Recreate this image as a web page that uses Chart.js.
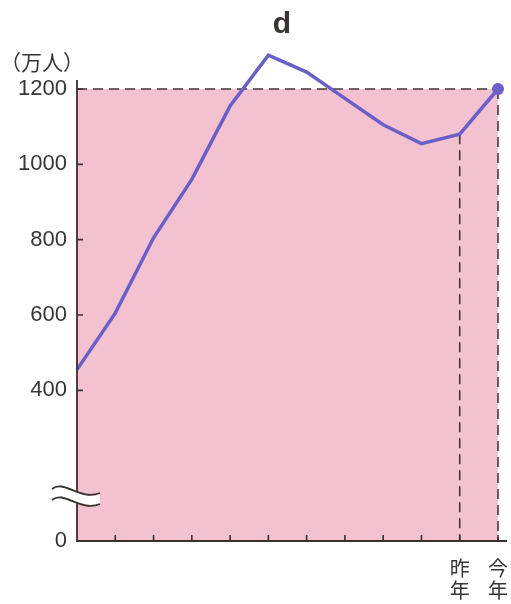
<!DOCTYPE html>
<html>
<head>
<meta charset="utf-8">
<script src="https://cdn.jsdelivr.net/npm/chart.js@4"></script>
<style>
  body { margin: 0; background: #fff; }
  canvas { display: block; }
</style>
</head>
<body>
<canvas id="visitorChart" width="511" height="604"></canvas>
<script>
// x categories: only the last two years are labelled
const periods = ["", "", "", "", "", "", "", "", "", "", "昨年", "今年"];
// visitors (万人)
const visitors = [455, 605, 805, 960, 1155, 1290, 1245, 1175, 1105, 1055, 1080, 1200];
// y tick labels shown on the axis (200 is hidden by the axis break)
const yTicks = [0, 400, 600, 800, 1000, 1200];

const axisColor = "#3a302c";
const textColor = "#3a3434";
const pink = "#f3c1d0";
const lineColor = "#6a5fc9";

const decorPlugin = {
    id: "decor",
    beforeDatasetsDraw(chart) {
        const { ctx, chartArea: a, scales: { x, y } } = chart;
        ctx.save();
        ctx.fillStyle = pink;
        ctx.fillRect(a.left, a.top, a.right - a.left, a.bottom - a.top);

        // dashed guide lines for this year / last year
        const n = visitors.length;
        ctx.strokeStyle = "#453835";
        ctx.lineWidth = 1.6;
        ctx.setLineDash([10, 6]);
        ctx.beginPath();
        ctx.moveTo(a.left, y.getPixelForValue(visitors[n - 1]));
        ctx.lineTo(x.getPixelForValue(n - 1), y.getPixelForValue(visitors[n - 1]));
        ctx.moveTo(x.getPixelForValue(n - 1), y.getPixelForValue(visitors[n - 1]));
        ctx.lineTo(x.getPixelForValue(n - 1), a.bottom);
        ctx.moveTo(x.getPixelForValue(n - 2), y.getPixelForValue(visitors[n - 2]));
        ctx.lineTo(x.getPixelForValue(n - 2), a.bottom);
        ctx.stroke();
        ctx.restore();
    },
    afterDatasetsDraw(chart) {
        const { ctx, chartArea: a, scales: { x, y } } = chart;
        ctx.save();
        ctx.strokeStyle = axisColor;
        ctx.lineWidth = 1.8;
        ctx.beginPath();
        ctx.moveTo(a.left, a.top - 9);
        ctx.lineTo(a.left, a.bottom);
        ctx.lineTo(a.right + 9, a.bottom);
        ctx.stroke();

        // inward tick marks
        ctx.lineWidth = 1.6;
        ctx.beginPath();
        yTicks.forEach(v => {
            if (v === 0) return;
            const py = y.getPixelForValue(v);
            ctx.moveTo(a.left, py);
            ctx.lineTo(a.left + 6, py);
        });
        for (let i = 1; i < periods.length; i++) {
            const px = x.getPixelForValue(i);
            ctx.moveTo(px, a.bottom);
            ctx.lineTo(px, a.bottom - 6);
        }
        ctx.stroke();

        // axis break symbol
        const by = 489, bx0 = a.left - 25, bx1 = a.left + 23, gap = 11;
        const wave = (off) => {
            ctx.moveTo(bx0, by + off);
            ctx.bezierCurveTo(bx0 + 12, by + off - 10, bx0 + 28, by + off + 12, bx1, by + off + 4);
        };
        ctx.beginPath();
        wave(0);
        ctx.lineTo(bx1, by + gap + 4);
        ctx.bezierCurveTo(bx0 + 28, by + gap + 12, bx0 + 12, by + gap - 10, bx0, by + gap);
        ctx.closePath();
        ctx.fillStyle = "#fff";
        ctx.fill();
        ctx.beginPath();
        wave(0);
        wave(gap);
        ctx.lineWidth = 1.8;
        ctx.stroke();
        ctx.restore();
    },
    afterDraw(chart) {
        const { ctx } = chart;
        ctx.save();
        ctx.fillStyle = textColor;
        ctx.textAlign = "center";
        ctx.textBaseline = "alphabetic";
        ctx.font = "bold 30px 'Liberation Sans', Arial, sans-serif";
        ctx.fillText("d", 282, 33);
        ctx.textAlign = "left";
        ctx.font = "21px 'Noto Sans CJK JP', sans-serif";
        ctx.fillText("（万人）", 0, 70);
        ctx.restore();
    }
};

new Chart(document.getElementById("visitorChart"), {
    type: "line",
    data: {
        labels: periods.map(p => p ? p.split("") : ""),
        datasets: [{
            data: visitors,
            borderColor: lineColor,
            borderWidth: 3.5,
            tension: 0,
            clip: false,
            pointRadius: visitors.map((v, i) => i === visitors.length - 1 ? 6 : 0),
            pointBackgroundColor: lineColor,
            pointBorderWidth: 0
        }]
    },
    options: {
        responsive: false,
        animation: false,
        layout: { padding: { top: 89, right: 13, bottom: 0, left: 0 } },
        plugins: { legend: { display: false }, tooltip: { enabled: false } },
        scales: {
            x: {
                offset: false,
                grid: { display: false, drawTicks: false },
                border: { display: false },
                ticks: {
                    autoSkip: false,
                    maxRotation: 0,
                    padding: 16,
                    color: textColor,
                    font: { family: "'Noto Sans CJK JP', sans-serif", size: 20, lineHeight: 1.1 }
                },
                afterFit(scale) {
                    scale.height = 63;
                    scale.paddingLeft = 0;
                    scale.paddingRight = 0;
                }
            },
            y: {
                min: 0,
                max: 1200,
                grid: { display: false, drawTicks: false },
                border: { display: false },
                afterBuildTicks(scale) { scale.ticks = yTicks.map(v => ({ value: v })); },
                ticks: {
                    padding: 10,
                    color: textColor,
                    callback: v => String(v),
                    font: { family: "'Liberation Sans', Arial, sans-serif", size: 22 }
                },
                afterFit(scale) { scale.width = 77; }
            }
        }
    },
    plugins: [decorPlugin]
});
</script>
</body>
</html>
